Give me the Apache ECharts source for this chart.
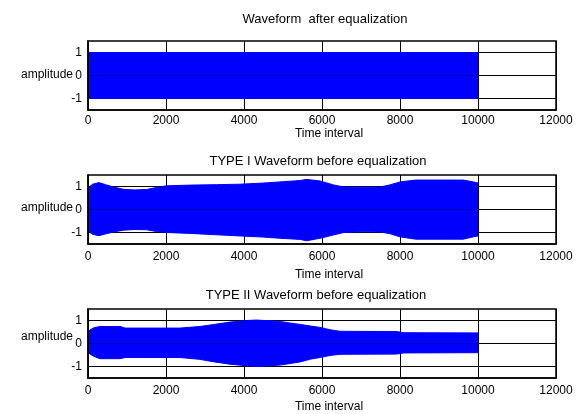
<!DOCTYPE html>
<html><head><meta charset="utf-8">
<script src="https://cdn.jsdelivr.net/npm/echarts@6/dist/echarts.min.js"></script>
<style>html,body{margin:0;padding:0;background:#fff}#c{width:580px;height:414px}</style>
</head><body><div id="c"></div>
<script>
// ---- text ----
const titles = ['Waveform  after equalization', 'TYPE I Waveform before equalization', 'TYPE II Waveform before equalization'];
const xName = 'Time interval';
const yName = 'amplitude';
// ---- axes ----
const xMin = 0, xMax = 12000, xStep = 2000;
const yMin = -1.5, yMax = 1.5;
const yTicks = [-1, 0, 1];
// ---- envelope of the dense waveform (upper / lower peaks) ----
const timeA  = [0, 10000];
const upperA = [1, 1];
const lowerA = [-1, -1];

const timeB  = [0, 120, 280, 450, 650, 900, 1200, 1500, 1760, 2020, 2620, 3300, 3900, 4500, 4920, 5440, 5600, 5950, 6290, 6550, 7000, 7500, 7740, 8000, 8400, 9000, 9620, 9880, 10000];
const upperB = [0.94, 1.10, 1.17, 1.08, 0.98, 0.88, 0.85, 0.87, 0.96, 1.03, 1.06, 1.08, 1.10, 1.15, 1.20, 1.26, 1.31, 1.24, 1.07, 0.98, 0.97, 0.98, 1.07, 1.20, 1.28, 1.28, 1.28, 1.20, 1.15];
const lowerB = [-0.93, -1.08, -1.14, -1.06, -0.98, -0.90, -0.87, -0.88, -0.96, -1.00, -1.04, -1.10, -1.15, -1.20, -1.25, -1.30, -1.36, -1.25, -1.11, -1.00, -0.97, -0.98, -1.05, -1.19, -1.29, -1.29, -1.29, -1.19, -1.15];

const timeC  = [0, 130, 300, 820, 950, 2360, 2870, 3200, 3640, 4070, 4320, 4920, 5180, 5440, 5700, 5950, 6200, 6460, 7900, 8100, 10000];
const upperC = [0.53, 0.67, 0.74, 0.74, 0.67, 0.67, 0.74, 0.82, 0.93, 1.00, 1.02, 0.96, 0.89, 0.83, 0.76, 0.70, 0.60, 0.53, 0.52, 0.47, 0.46];
const lowerC = [-0.40, -0.54, -0.66, -0.66, -0.61, -0.61, -0.69, -0.79, -0.90, -0.97, -1.00, -0.94, -0.87, -0.80, -0.68, -0.61, -0.52, -0.47, -0.46, -0.41, -0.40];

const panels = [[timeA, upperA, lowerA], [timeB, upperB, lowerB], [timeC, upperC, lowerC]];

// ---- layout ----
const layout = [
  {top: 41,  title: [325, 19],  xname: [329, 134], yname: [73, 75],  labelMargin: 5},
  {top: 175, title: [318, 161], xname: [329, 275], yname: [73, 208], labelMargin: 7},
  {top: 309, title: [316, 295], xname: [329, 407], yname: [73, 337], labelMargin: 7}
];
const FONT = "'Liberation Sans', Arial, Helvetica, sans-serif";
const BLUE = '#0000ff';

const grid = [], xAxis = [], yAxis = [], series = [], graphic = [];
layout.forEach((L, i) => {
  grid.push({left: 88, width: 468, top: L.top, height: 69, show: true, borderColor: '#000', borderWidth: 1.5, backgroundColor: 'transparent'});
  xAxis.push({type: 'value', gridIndex: i, min: xMin, max: xMax, interval: xStep,
    axisLine: {show: true, onZero: false, lineStyle: {color: '#000', width: 1.5}}, axisTick: {show: false},
    axisLabel: {color: '#000', fontSize: 12, fontFamily: FONT, margin: L.labelMargin, formatter: v => String(v)},
    splitLine: {show: true, lineStyle: {color: '#000', width: 1}}});
  yAxis.push({type: 'value', gridIndex: i, min: yMin, max: yMax,
    axisLine: {show: false},
    axisTick: {show: false, customValues: yTicks},
    axisLabel: {color: '#000', fontSize: 12, fontFamily: FONT, margin: 6, customValues: yTicks, formatter: v => String(v)},
    splitLine: {show: true, lineStyle: {color: '#000', width: 1}}});
  const [t, up, lo] = panels[i];
  const mk = (arr) => ({type: 'line', xAxisIndex: i, yAxisIndex: i, data: t.map((v, k) => [v, arr[k]]),
    showSymbol: false, symbol: 'none', silent: true, animation: false,
    lineStyle: {color: BLUE, width: 1}, itemStyle: {color: BLUE},
    areaStyle: {color: BLUE, opacity: 1, origin: 0}, z: 2});
  series.push(mk(up), mk(lo));
  graphic.push({type: 'text', x: L.title[0], y: L.title[1], style: {text: titles[i], fill: '#000', font: '13px ' + FONT, textAlign: 'center', textVerticalAlign: 'middle'}});
  graphic.push({type: 'text', x: L.xname[0], y: L.xname[1], style: {text: xName, fill: '#000', font: '12px ' + FONT, textAlign: 'center', textVerticalAlign: 'middle'}});
  graphic.push({type: 'text', x: L.yname[0], y: L.yname[1], style: {text: yName, fill: '#000', font: '12px ' + FONT, textAlign: 'right', textVerticalAlign: 'middle'}});
});
// overlay left frame lines above the filled waveform
layout.forEach((L, i) => {
  yAxis.push({type: 'value', gridIndex: i, min: yMin, max: yMax, position: 'left', z: 10,
    axisLine: {show: true, onZero: false, lineStyle: {color: '#000', width: 1.5}},
    axisTick: {show: false}, axisLabel: {show: false}, splitLine: {show: false}});
});

const chart = echarts.init(document.getElementById('c'), null, {renderer: 'canvas'});
chart.setOption({animation: false, backgroundColor: '#fff', grid, xAxis, yAxis, series, graphic});
</script></body></html>
